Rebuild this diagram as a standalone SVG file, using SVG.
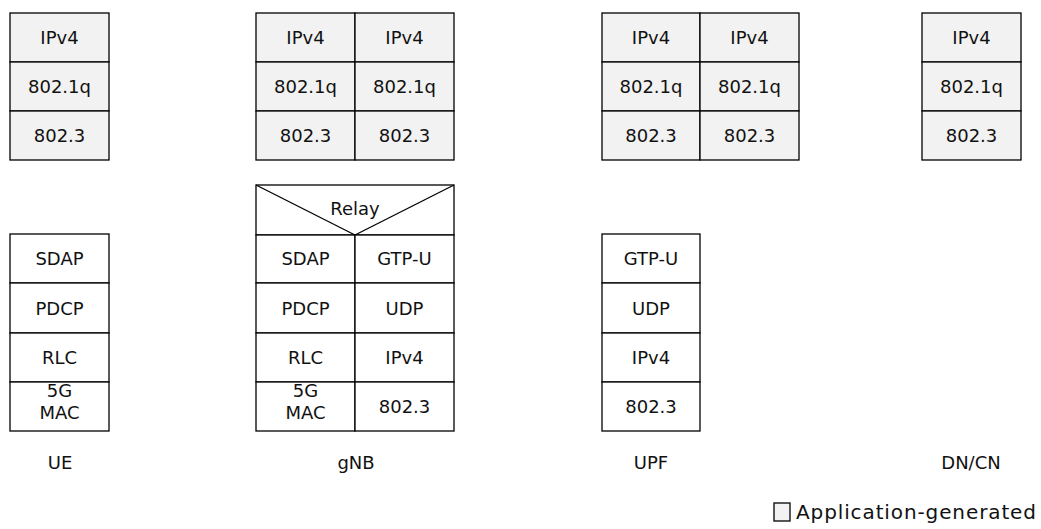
<svg xmlns="http://www.w3.org/2000/svg" width="1041" height="529" viewBox="0 0 1041 529">
<style>
.app{fill:#f2f2f2;stroke:#000;stroke-width:1.3}
.box{fill:#fff;stroke:#000;stroke-width:1.3}
.ln{stroke:#000;stroke-width:1.3;fill:none}
text{font-family:"DejaVu Sans","Liberation Sans",sans-serif;font-size:18px;fill:#111;text-anchor:middle}
</style>
<rect width="1041" height="529" fill="#fff"/>
<g id="ue-app">
<rect class="app" x="10" y="13" width="99" height="49"/>
<rect class="app" x="10" y="62" width="99" height="49"/>
<rect class="app" x="10" y="111" width="99" height="49"/>
<text x="59.5" y="44">IPv4</text>
<text x="59.5" y="93">802.1q</text>
<text x="59.5" y="142">802.3</text>
</g>
<g id="gnb-app">
<rect class="app" x="256" y="13" width="99" height="49"/>
<rect class="app" x="256" y="62" width="99" height="49"/>
<rect class="app" x="256" y="111" width="99" height="49"/>
<rect class="app" x="355" y="13" width="99" height="49"/>
<rect class="app" x="355" y="62" width="99" height="49"/>
<rect class="app" x="355" y="111" width="99" height="49"/>
<text x="305.5" y="44">IPv4</text>
<text x="305.5" y="93">802.1q</text>
<text x="305.5" y="142">802.3</text>
<text x="404.5" y="44">IPv4</text>
<text x="404.5" y="93">802.1q</text>
<text x="404.5" y="142">802.3</text>
</g>
<g id="upf-app">
<rect class="app" x="602" y="13" width="98" height="49"/>
<rect class="app" x="602" y="62" width="98" height="49"/>
<rect class="app" x="602" y="111" width="98" height="49"/>
<rect class="app" x="700" y="13" width="99" height="49"/>
<rect class="app" x="700" y="62" width="99" height="49"/>
<rect class="app" x="700" y="111" width="99" height="49"/>
<text x="651" y="44">IPv4</text>
<text x="651" y="93">802.1q</text>
<text x="651" y="142">802.3</text>
<text x="749.5" y="44">IPv4</text>
<text x="749.5" y="93">802.1q</text>
<text x="749.5" y="142">802.3</text>
</g>
<g id="dn-app">
<rect class="app" x="922" y="13" width="99" height="49"/>
<rect class="app" x="922" y="62" width="99" height="49"/>
<rect class="app" x="922" y="111" width="99" height="49"/>
<text x="971.5" y="44">IPv4</text>
<text x="971.5" y="93">802.1q</text>
<text x="971.5" y="142">802.3</text>
</g>
<g id="ue-stack">
<rect class="box" x="10" y="234" width="99" height="49"/>
<rect class="box" x="10" y="283" width="99" height="50"/>
<rect class="box" x="10" y="333" width="99" height="49"/>
<rect class="box" x="10" y="382" width="99" height="49"/>
<text x="59.5" y="265">SDAP</text>
<text x="59.5" y="314.5">PDCP</text>
<text x="59.5" y="364">RLC</text>
<text x="59.5" y="397">5G</text>
<text x="59.5" y="419">MAC</text>
</g>
<g id="gnb-stack">
<rect class="box" x="256" y="185" width="198" height="50"/>
<line class="ln" x1="256" y1="185" x2="355" y2="235"/>
<line class="ln" x1="454" y1="185" x2="355" y2="235"/>
<rect x="324" y="199" width="62" height="20" fill="#fff"/>
<text x="355" y="215">Relay</text>
<rect class="box" x="256" y="235" width="99" height="48"/>
<rect class="box" x="256" y="283" width="99" height="50"/>
<rect class="box" x="256" y="333" width="99" height="49"/>
<rect class="box" x="256" y="382" width="99" height="49"/>
<rect class="box" x="355" y="235" width="99" height="48"/>
<rect class="box" x="355" y="283" width="99" height="50"/>
<rect class="box" x="355" y="333" width="99" height="49"/>
<rect class="box" x="355" y="382" width="99" height="49"/>
<text x="305.5" y="265">SDAP</text>
<text x="305.5" y="314.5">PDCP</text>
<text x="305.5" y="364">RLC</text>
<text x="305.5" y="397">5G</text>
<text x="305.5" y="419">MAC</text>
<text x="404.5" y="265">GTP-U</text>
<text x="404.5" y="314.5">UDP</text>
<text x="404.5" y="364">IPv4</text>
<text x="404.5" y="413">802.3</text>
</g>
<g id="upf-stack">
<rect class="box" x="602" y="234" width="98" height="49"/>
<rect class="box" x="602" y="283" width="98" height="50"/>
<rect class="box" x="602" y="333" width="98" height="49"/>
<rect class="box" x="602" y="382" width="98" height="49"/>
<text x="651" y="265">GTP-U</text>
<text x="651" y="314.5">UDP</text>
<text x="651" y="364">IPv4</text>
<text x="651" y="413">802.3</text>
</g>
<g id="labels">
<text x="60" y="469">UE</text>
<text x="356" y="469">gNB</text>
<text x="651" y="469">UPF</text>
<text x="971" y="469">DN/CN</text>
</g>
<g id="legend">
<rect class="app" x="774" y="503" width="16" height="18"/>
<text x="796" y="519" style="text-anchor:start;font-size:20px" textLength="240" lengthAdjust="spacing">Application-generated</text>
</g>
<g id="connectors"></g>
</svg>
